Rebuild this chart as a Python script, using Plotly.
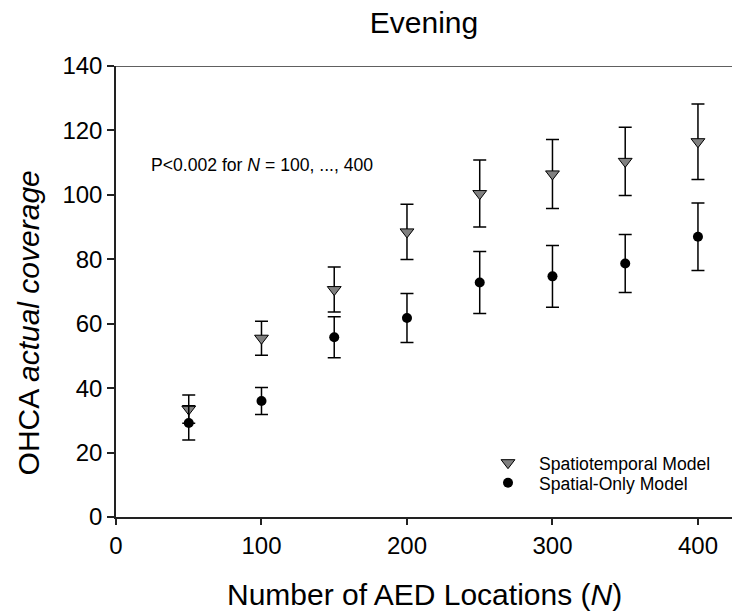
import plotly.graph_objects as go

N = [50, 100, 150, 200, 250, 300, 350, 400]
st_mean = [33.5, 55.5, 70.6, 88.5, 100.4, 106.5, 110.4, 116.5]
st_err = [4.4, 5.3, 7.0, 8.6, 10.4, 10.7, 10.6, 11.7]
so_mean = [29.2, 36.0, 55.8, 61.8, 72.8, 74.7, 78.7, 87.0]
so_err = [5.3, 4.2, 6.4, 7.6, 9.6, 9.6, 9.0, 10.5]

x_ticks = [0, 100, 200, 300, 400]
y_ticks = [0, 20, 40, 60, 80, 100, 120, 140]

FONT = "Liberation Sans, Arial, sans-serif"

fig = go.Figure()
fig.add_trace(go.Scatter(
    x=N, y=st_mean, mode="markers", name="Spatiotemporal Model",
    legend="legend",
    marker=dict(symbol="triangle-down", size=12, color="#808080",
                line=dict(color="black", width=1)),
    error_y=dict(type="data", array=st_err, visible=True, color="black",
                 thickness=1.5, width=6.5),
))
fig.add_trace(go.Scatter(
    x=N, y=so_mean, mode="markers", name="Spatial-Only Model",
    legend="legend2",
    marker=dict(symbol="circle", size=10, color="black",
                line=dict(color="black", width=0)),
    error_y=dict(type="data", array=so_err, visible=True, color="black",
                 thickness=1.5, width=6.5),
))

PLOT_L, PLOT_W, PLOT_T, PLOT_H = 116, 616, 66, 451.3
leg_x = (508 - 31 - PLOT_L) / PLOT_W


def leg(ypix):
    return dict(x=leg_x, y=1 - (ypix - PLOT_T) / PLOT_H, xanchor="left",
                yanchor="middle", bgcolor="rgba(0,0,0,0)",
                font=dict(size=17.6, family=FONT), itemwidth=52)


fig.update_layout(
    width=732, height=612,
    margin=dict(l=116, r=0, t=66, b=95),
    plot_bgcolor="white", paper_bgcolor="white",
    font=dict(family=FONT, color="black"),
    showlegend=True,
    legend=leg(463),
    legend2=leg(483),
    title=dict(text="Evening", x=0.5, xref="paper", xanchor="center",
               y=1 - 22.5 / 612, yref="container", yanchor="middle",
               font=dict(size=30, family=FONT)),
    xaxis=dict(range=[0, 423.4], tickvals=x_ticks, ticks="outside", ticklen=6,
               tickwidth=1.5, tickcolor="#222", showline=True, linecolor="#222",
               linewidth=1.5, showgrid=False, zeroline=False,
               tickfont=dict(size=24, family=FONT)),
    yaxis=dict(range=[0, 140], tickvals=y_ticks, ticks="outside", ticklen=7,
               tickwidth=1.5, tickcolor="#222", showline=True, linecolor="#222",
               linewidth=1.5, showgrid=False, zeroline=False,
               tickfont=dict(size=24, family=FONT)),
)

fig.add_shape(type="line", xref="paper", yref="y", x0=0, x1=1, y0=140, y1=140,
              line=dict(color="#606060", width=2))

fig.add_annotation(text="OHCA <i>actual coverage</i>", xref="paper", yref="y",
                   x=(28 - 116) / 616, y=60.1, textangle=-90, showarrow=False,
                   xanchor="center", yanchor="middle",
                   font=dict(size=30, family=FONT))
fig.add_annotation(text="Number of AED Locations (<i>N</i>)", xref="paper",
                   yref="paper", x=0.5, y=-(595 - 517.3) / 451.6,
                   showarrow=False, xanchor="center", yanchor="middle",
                   font=dict(size=30, family=FONT))
fig.add_annotation(text="P<0.002 for <i>N</i> = 100, ..., 400", xref="x",
                   yref="y", x=(149 - 116) / 1.455, y=109.2, showarrow=False,
                   xanchor="left", yanchor="middle",
                   font=dict(size=17.6, family=FONT))

fig.write_html("out.html")
